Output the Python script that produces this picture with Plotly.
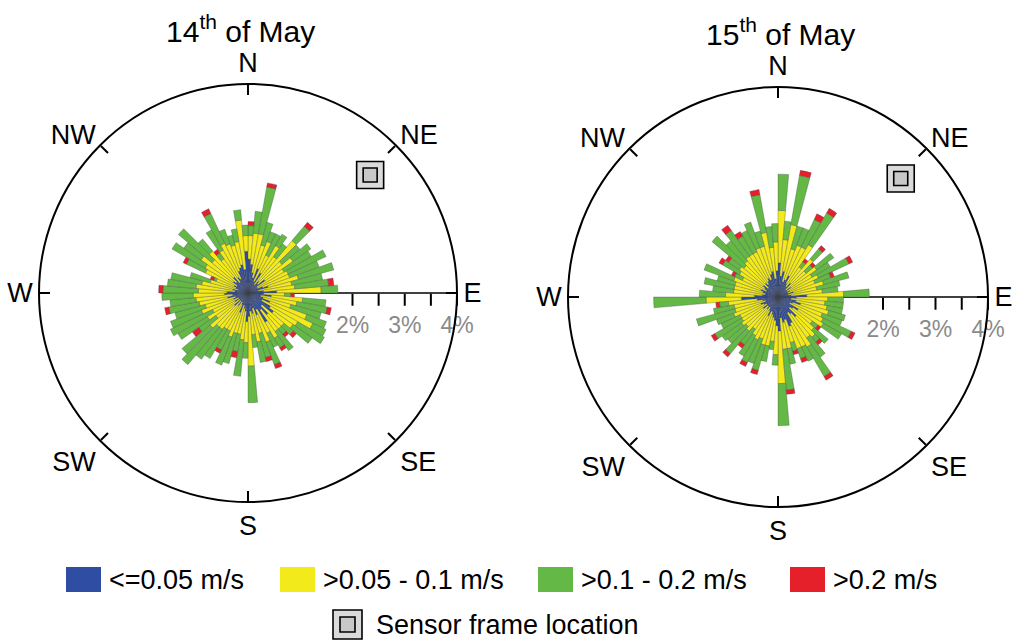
import plotly.graph_objects as go

# 5-degree direction bins (bin centres, degrees clockwise from north)
directions = [
    2.5, 7.5, 12.5, 17.5, 22.5, 27.5, 32.5, 37.5, 42.5, 47.5, 52.5, 57.5,
    62.5, 67.5, 72.5, 77.5, 82.5, 87.5, 92.5, 97.5, 102.5, 107.5, 112.5, 117.5,
    122.5, 127.5, 132.5, 137.5, 142.5, 147.5, 152.5, 157.5, 162.5, 167.5, 172.5, 177.5,
    182.5, 187.5, 192.5, 197.5, 202.5, 207.5, 212.5, 217.5, 222.5, 227.5, 232.5, 237.5,
    242.5, 247.5, 252.5, 257.5, 262.5, 267.5, 272.5, 277.5, 282.5, 287.5, 292.5, 297.5,
    302.5, 307.5, 312.5, 317.5, 322.5, 327.5, 332.5, 337.5, 342.5, 347.5, 352.5, 357.5,
]

compass_vals = [0, 45, 90, 135, 180, 225, 270, 315]
compass_text = ["N", "NE", "E", "SE", "S", "SW", "W", "NW"]

speed_classes = ["<=0.05 m/s", ">0.05 - 0.1 m/s", ">0.1 - 0.2 m/s", ">0.2 m/s"]
class_colors = ["#2E4DA3", "#F2EA1B", "#63B846", "#E5202B"]

# ---- 14th of May: frequency (%) per speed class, stacked ----
may14_slow = [
    0.65, 0.55, 0.40, 0.30, 0.50, 0.25, 0.45, 0.20, 0.30, 0.25, 0.40, 0.20,
    0.20, 0.30, 0.40, 0.20, 0.30, 0.55, 0.30, 0.45, 0.25, 0.30, 0.45, 0.30,
    0.50, 0.60, 0.35, 0.55, 0.40, 0.65, 0.35, 0.45, 0.30, 0.40, 0.35, 0.45,
    0.55, 0.35, 0.30, 0.25, 0.40, 0.25, 0.20, 0.30, 0.20, 0.35, 0.20, 0.30,
    0.20, 0.30, 0.25, 0.40, 0.30, 0.45, 0.40, 0.25, 0.30, 0.20, 0.25, 0.30,
    0.25, 0.35, 0.30, 0.40, 0.25, 0.35, 0.30, 0.45, 0.50, 0.55, 0.45, 0.80,
]
may14_low = [
    0.45, 0.60, 0.75, 0.65, 0.55, 0.55, 0.60, 0.65, 1.01, 0.60, 0.65, 0.60,
    0.65, 0.55, 0.60, 0.65, 0.60, 0.85, 0.40, 0.60, 0.70, 0.55, 0.75, 1.07,
    0.60, 0.45, 0.55, 0.35, 0.50, 0.35, 0.50, 0.55, 0.50, 0.55, 0.45, 0.95,
    0.40, 0.55, 0.50, 0.55, 0.50, 0.55, 0.60, 0.55, 0.65, 0.60, 0.55, 0.60,
    0.55, 0.65, 0.60, 0.55, 0.70, 0.60, 0.55, 0.75, 0.60, 0.55, 0.40, 0.60,
    0.70, 0.75, 0.60, 0.65, 0.55, 0.60, 0.75, 0.55, 0.45, 0.45, 0.95, 0.30,
]
may14_mid = [
    0.19, 0.42, 0.91, 0.45, 0.20, 0.45, 0.25, 0.30, 0.36, 0.45, 0.42, 0.60,
    0.80, 0.60, 0.70, 0.60, 0.65, 0.32, 0.12, 0.45, 0.59, 0.60, 0.40, 0.28,
    0.59, 0.45, 0.23, 0.13, 0.45, 0.21, 0.30, 0.46, 0.48, 0.40, 0.25, 0.70,
    0.30, 0.70, 0.34, 0.60, 0.57, 0.40, 0.65, 0.70, 0.94, 0.70, 0.40, 0.65,
    0.89, 0.63, 0.60, 0.59, 0.50, 0.60, 0.68, 0.55, 0.60, 0.40, 0.05, 0.40,
    0.73, 0.40, 0.84, 0.30, 0.14, 0.45, 0.63, 0.30, 0.20, 0.25, 0.20, 0.20,
]
may14_high = [
    0.08, 0.00, 0.08, 0.00, 0.00, 0.00, 0.00, 0.00, 0.10, 0.00, 0.00, 0.00,
    0.00, 0.00, 0.00, 0.00, 0.10, 0.00, 0.07, 0.00, 0.08, 0.00, 0.00, 0.00,
    0.00, 0.00, 0.08, 0.07, 0.00, 0.07, 0.00, 0.08, 0.08, 0.00, 0.00, 0.00,
    0.00, 0.00, 0.12, 0.00, 0.00, 0.07, 0.00, 0.00, 0.00, 0.00, 0.15, 0.00,
    0.00, 0.00, 0.00, 0.08, 0.00, 0.00, 0.08, 0.00, 0.00, 0.00, 0.07, 0.07,
    0.00, 0.00, 0.00, 0.00, 0.08, 0.00, 0.10, 0.00, 0.00, 0.00, 0.00, 0.00,
]

# ---- 15th of May ----
may15_slow = [
    0.65, 0.40, 0.50, 0.30, 0.35, 0.45, 0.30, 0.25, 0.35, 0.20, 0.30, 0.20,
    0.25, 0.20, 0.30, 0.20, 0.25, 0.55, 0.35, 0.25, 0.35, 0.45, 0.30, 0.25,
    0.45, 0.35, 0.30, 0.50, 0.40, 0.35, 0.55, 0.60, 0.45, 0.50, 0.40, 0.65,
    0.55, 0.45, 0.40, 0.35, 0.30, 0.40, 0.30, 0.25, 0.30, 0.25, 0.35, 0.25,
    0.30, 0.35, 0.25, 0.30, 0.40, 0.70, 0.45, 0.30, 0.25, 0.30, 0.35, 0.25,
    0.30, 0.35, 0.25, 0.35, 0.30, 0.35, 0.40, 0.35, 0.45, 0.50, 0.35, 0.50,
]
may15_low = [
    1.00, 0.70, 0.90, 0.65, 0.70, 0.60, 0.85, 0.45, 0.60, 0.50, 0.60, 0.55,
    0.60, 0.55, 0.60, 0.55, 0.60, 0.70, 0.60, 0.65, 0.60, 0.55, 0.60, 0.70,
    0.55, 0.45, 0.60, 0.50, 0.55, 0.75, 0.50, 0.45, 0.45, 0.50, 0.60, 1.00,
    0.55, 0.40, 0.55, 0.60, 0.55, 0.50, 0.55, 0.50, 0.55, 0.55, 0.50, 0.55,
    0.50, 0.55, 0.60, 0.55, 0.55, 0.67, 0.55, 0.55, 0.60, 0.55, 0.55, 0.50,
    0.55, 0.55, 0.60, 0.55, 0.65, 0.60, 0.55, 0.65, 0.55, 0.75, 0.60, 0.55,
]
may15_mid = [
    0.69, 0.35, 0.95, 0.45, 0.35, 0.58, 0.70, 0.12, 0.25, 0.16, 0.40, 0.40,
    0.64, 0.32, 0.50, 0.45, 0.30, 0.49, 0.30, 0.35, 0.30, 0.33, 0.40, 0.59,
    0.40, 0.13, 0.35, 0.12, 0.45, 0.65, 0.30, 0.20, 0.17, 0.30, 0.78, 0.80,
    0.20, 0.16, 0.30, 0.50, 0.50, 0.48, 0.45, 0.36, 0.56, 0.45, 0.45, 0.59,
    0.40, 0.35, 0.76, 0.40, 0.17, 1.00, 0.50, 0.40, 0.58, 0.35, 0.60, 0.16,
    0.37, 0.25, 0.79, 0.50, 0.60, 0.39, 0.45, 0.52, 0.30, 0.73, 0.40, 0.35,
]
may15_high = [
    0.00, 0.00, 0.10, 0.00, 0.00, 0.12, 0.10, 0.07, 0.08, 0.07, 0.00, 0.00,
    0.08, 0.07, 0.00, 0.00, 0.00, 0.00, 0.00, 0.00, 0.00, 0.00, 0.00, 0.08,
    0.00, 0.07, 0.00, 0.07, 0.00, 0.08, 0.00, 0.08, 0.07, 0.00, 0.08, 0.00,
    0.00, 0.00, 0.00, 0.08, 0.00, 0.08, 0.00, 0.08, 0.08, 0.00, 0.00, 0.08,
    0.00, 0.00, 0.00, 0.00, 0.07, 0.00, 0.00, 0.00, 0.00, 0.00, 0.00, 0.07,
    0.08, 0.07, 0.00, 0.00, 0.12, 0.10, 0.00, 0.00, 0.00, 0.10, 0.00, 0.00,
]

# sensor frame position (radius in %, bearing in degrees)
sensor_r = [3.25]
sensor_theta = [46]

radial_ticks = [2, 2.5, 3, 3.5, 4]
radial_text = ["2%", "", "3%", "", "4%"]

FONT = "Liberation Sans, Arial, sans-serif"
W, H = 1013, 641


def px(x):
    return x / W


def py(y):
    return 1 - y / H


days = [
    ("polar", [may14_slow, may14_low, may14_mid, may14_high]),
    ("polar2", [may15_slow, may15_low, may15_mid, may15_high]),
]

fig = go.Figure()
for sub, classes in days:
    for values, name, color in zip(classes, speed_classes, class_colors):
        fig.add_trace(go.Barpolar(
            r=values, theta=directions, width=5, name=name, subplot=sub,
            marker=dict(color=color, line=dict(color="rgba(70,70,70,0.55)", width=0.6)),
            showlegend=False,
        ))
    # sensor frame symbol: outer and inner square
    fig.add_trace(go.Scatterpolar(
        r=sensor_r, theta=sensor_theta, mode="markers", subplot=sub, showlegend=False,
        marker=dict(symbol="square", size=27, color="#dadada", line=dict(color="black", width=1.6)),
    ))
    fig.add_trace(go.Scatterpolar(
        r=sensor_r, theta=sensor_theta, mode="markers", subplot=sub, showlegend=False,
        marker=dict(symbol="square", size=14, color="#c8c8c8", line=dict(color="black", width=1.6)),
    ))


def polar_layout(xdom, ydom):
    return dict(
        domain=dict(x=xdom, y=ydom),
        bgcolor="white",
        barmode="stack",
        angularaxis=dict(
            direction="clockwise", rotation=90,
            tickmode="array", tickvals=compass_vals, ticktext=compass_text,
            showgrid=False, showline=True, linecolor="black", linewidth=2,
            ticks="inside", ticklen=10, tickwidth=1.5, tickcolor="black",
            tickfont=dict(family=FONT, size=27, color="black"),
        ),
        radialaxis=dict(
            range=[0, 4], angle=0, side="clockwise",
            showgrid=False, showline=True, linecolor="black", linewidth=1.5,
            tickmode="array", tickvals=radial_ticks, ticktext=radial_text,
            ticks="outside", ticklen=12, tickwidth=1.5, tickcolor="black",
            tickfont=dict(family=FONT, size=23, color="#8a8a8a"),
            layer="below traces",
        ),
    )


shapes = []
annotations = [
    dict(text="14<sup>th</sup> of May", x=px(240), y=py(29), xref="paper", yref="paper",
         xanchor="center", yanchor="middle", showarrow=False,
         font=dict(family=FONT, size=30, color="black")),
    dict(text="15<sup>th</sup> of May", x=px(780), y=py(32), xref="paper", yref="paper",
         xanchor="center", yanchor="middle", showarrow=False,
         font=dict(family=FONT, size=30, color="black")),
]

# legend: coloured boxes with speed class labels
box_x = [66, 280, 538, 790]
for x0, name, color in zip(box_x, speed_classes, class_colors):
    shapes.append(dict(type="rect", xref="paper", yref="paper",
                       x0=px(x0), x1=px(x0 + 35), y0=py(592), y1=py(567),
                       fillcolor=color, line=dict(width=0)))
    annotations.append(dict(text=name, x=px(x0 + 41), y=py(580), xref="paper", yref="paper",
                            xanchor="left", yanchor="middle", showarrow=False,
                            font=dict(family=FONT, size=27, color="black")))

# legend: sensor frame entry
shapes.append(dict(type="rect", xref="paper", yref="paper",
                   x0=px(333), x1=px(362), y0=py(639), y1=py(610),
                   fillcolor="#dadada", line=dict(color="black", width=1.6)))
shapes.append(dict(type="rect", xref="paper", yref="paper",
                   x0=px(340), x1=px(355), y0=py(632), y1=py(617),
                   fillcolor="#c8c8c8", line=dict(color="black", width=1.6)))
annotations.append(dict(text="Sensor frame location", x=px(374), y=py(625), xref="paper", yref="paper",
                        xanchor="left", yanchor="middle", showarrow=False,
                        font=dict(family=FONT, size=27, color="black")))

fig.update_layout(
    width=W, height=H,
    margin=dict(l=0, r=0, t=0, b=0),
    paper_bgcolor="white",
    showlegend=False,
    polar=polar_layout([px(39), px(457)], [py(502), py(84)]),
    polar2=polar_layout([px(568), px(988)], [py(507), py(87)]),
    shapes=shapes,
    annotations=annotations,
)

fig.write_html("out.html")
